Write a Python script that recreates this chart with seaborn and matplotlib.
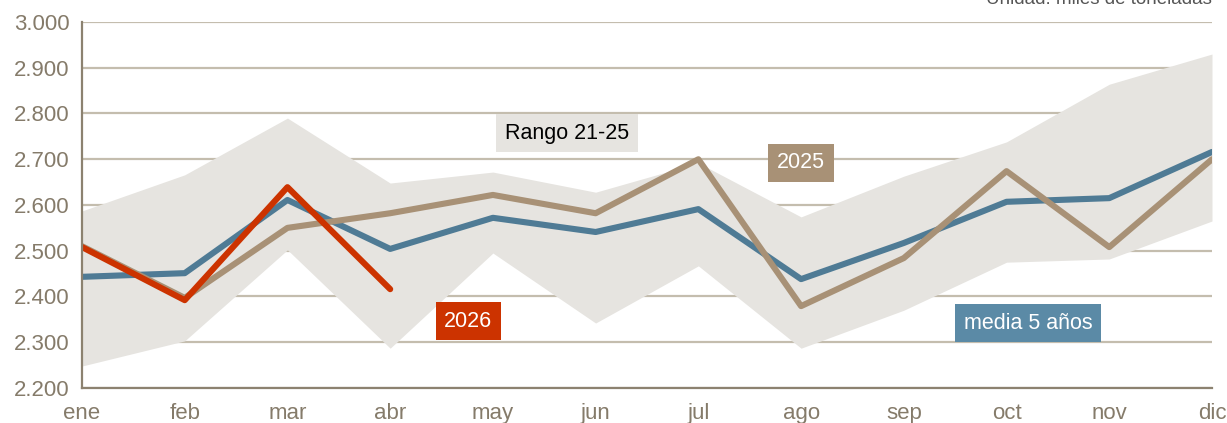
import numpy as np
import pandas as pd
import matplotlib
matplotlib.use("Agg")
from matplotlib import pyplot as plt
import seaborn as sns

months = ["ene", "feb", "mar", "abr", "may", "jun", "jul", "ago", "sep", "oct", "nov", "dic"]
rango_max = [2587, 2666, 2790, 2648, 2672, 2628, 2692, 2574, 2663, 2738, 2864, 2930]
rango_min = [2248, 2303, 2502, 2287, 2495, 2342, 2467, 2287, 2370, 2475, 2482, 2565]
media_5 = [2443, 2451, 2611, 2504, 2572, 2541, 2591, 2438, 2517, 2607, 2615, 2716]
y2025 = [2510, 2397, 2550, 2582, 2622, 2582, 2700, 2379, 2484, 2674, 2508, 2700]
y2026 = [2508, 2392, 2639, 2416]

sns.set_style("white")
plt.rcParams["font.family"] = ["Liberation Sans", "DejaVu Sans"]

grey_txt = "#857b6a"
grid_col = "#c4bdae"
band_col = "#e6e4e0"
blue = "#4f7b95"
tan = "#a89176"
red = "#cc3300"

x = np.arange(len(months))
df = pd.DataFrame({"mes": x, "media": media_5, "y2025": y2025})
df26 = pd.DataFrame({"mes": x[:len(y2026)], "y2026": y2026})

fig = plt.figure(figsize=(12.27, 4.23), dpi=100)
ax = fig.add_axes([82 / 1227, 1 - 388 / 423, (1212 - 82) / 1227, 366 / 423])

# rango 21-25
ax.fill_between(x, rango_min, rango_max, color=band_col, lw=0, zorder=1)

sns.lineplot(data=df, x="mes", y="media", ax=ax, color=blue, lw=4.4, zorder=3)
sns.lineplot(data=df, x="mes", y="y2025", ax=ax, color=tan, lw=4.4, zorder=4)
sns.lineplot(data=df26, x="mes", y="y2026", ax=ax, color=red, lw=4.4, zorder=5,
             solid_capstyle="round")

ax.set_xlim(0, 11)
ax.set_ylim(2200, 3000)
ax.set_xticks(x)
ax.set_xticklabels(months)
yt = np.arange(2200, 3001, 100)
ax.set_yticks(yt)
ax.set_yticklabels([f"{v:,}".replace(",", ".") for v in yt])
ax.tick_params(axis="both", length=0, labelsize=16, colors=grey_txt)
ax.tick_params(axis="x", pad=11)
ax.tick_params(axis="y", pad=9)
ax.set_xlabel("")
ax.set_ylabel("")

ax.grid(axis="y", color=grid_col, lw=1.6, zorder=0.5)
ax.grid(axis="x", visible=False)
ax.set_axisbelow(True)
for s in ["top", "right"]:
    ax.spines[s].set_visible(False)
for s in ["left", "bottom"]:
    ax.spines[s].set_color("#8c8270")
    ax.spines[s].set_linewidth(1.6)
    ax.spines[s].set_zorder(6)

def etiqueta(xv, yv, txt, bg, fg="white"):
    ax.text(xv, yv, txt, ha="center", va="center", fontsize=15.5, color=fg, zorder=7,
            bbox=dict(boxstyle="square,pad=0.4", fc=bg, ec="none"))

etiqueta(4.72, 2757, "Rango 21-25", band_col, fg="black")
etiqueta(7.0, 2692, "2025", tan)
etiqueta(3.76, 2346, "2026", red)
etiqueta(9.21, 2342, "media 5 años", "#5b8aa6")

fig.text(1212 / 1227, 1.0, "Unidad: miles de toneladas", ha="right", va="center",
         fontsize=13.5, color="#555555")

fig.savefig("out.png", dpi=100)
